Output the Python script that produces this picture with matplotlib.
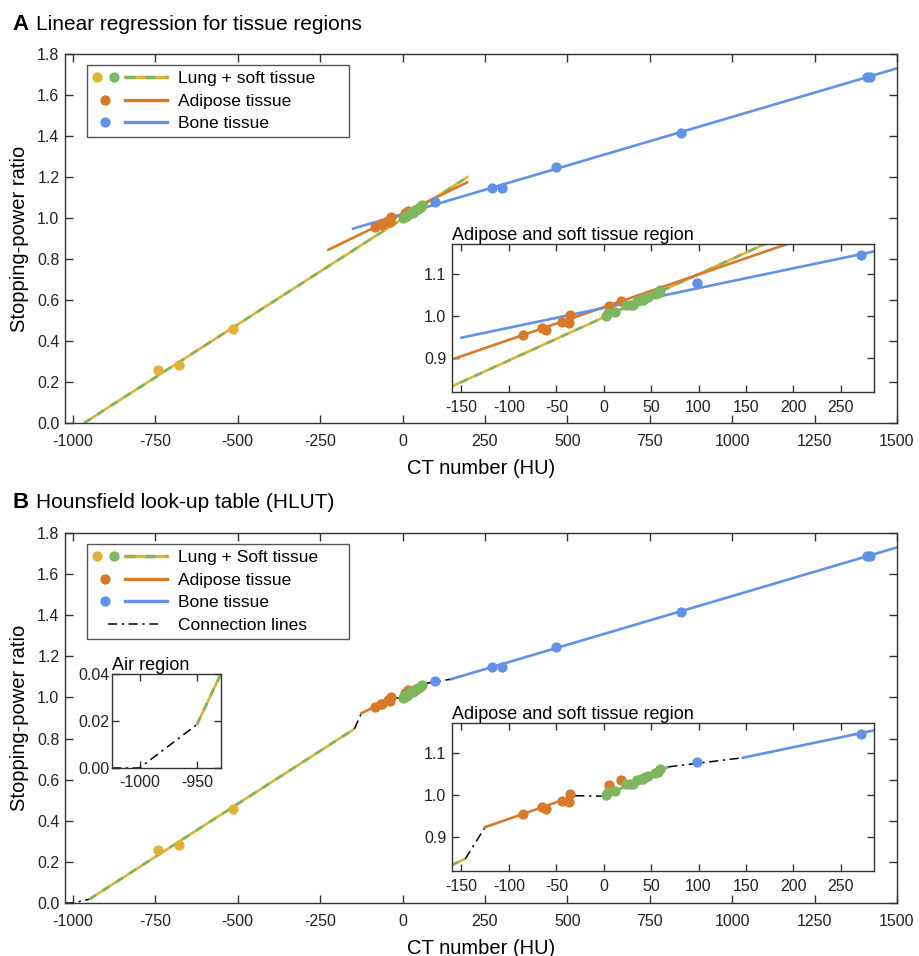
import matplotlib
matplotlib.use("Agg")
import matplotlib.pyplot as plt
from matplotlib.lines import Line2D
from matplotlib.legend_handler import HandlerBase
from matplotlib.ticker import FormatStrFormatter, MultipleLocator

plt.rcParams['font.family'] = ['Liberation Sans', 'DejaVu Sans']
plt.rcParams['axes.unicode_minus'] = False

# Cores
amarelo = '#E2B13A'
verde = '#7DB65E'
laranja = '#D77A2A'
azul = '#6192E6'
cor_eixo = '#333333'

# Pontos medidos (HU, SPR)
lung_hu = [-741, -677, -514]
lung_spr = [0.258, 0.282, 0.457]

soft_hu = [2, 4, 12, 24, 28, 31, 35, 39, 41, 44, 47, 54, 57, 59]
soft_spr = [0.999, 1.006, 1.009, 1.026, 1.027, 1.025, 1.036, 1.037,
            1.039, 1.042, 1.045, 1.052, 1.055, 1.061]

adip_hu = [-85, -65, -61, -44, -37, -36, 6, 18]
adip_spr = [0.954, 0.970, 0.966, 0.986, 0.982, 1.003, 1.024, 1.035]

bone_hu = [98, 271, 303, 467, 846, 1410, 1418]
bone_spr = [1.079, 1.146, 1.147, 1.247, 1.415, 1.690, 1.690]

# Retas de regressao (painel A): extremos
fit_lung_hu = [-966, 200]
fit_lung_spr = [0.0, 1.203]
fit_adip_hu = [-225, 196]
fit_adip_spr = [0.845, 1.174]
fit_bone_hu = [-150, 1500]
fit_bone_spr = [0.948, 1.730]

# HLUT (painel B): segmentos
hlut_ar_hu = [-1024, -1000, -950]
hlut_ar_spr = [0.0, 0.0, 0.0185]
hlut_lung_hu = [-950, -146]
hlut_lung_spr = [0.0185, 0.847]
hlut_con1_hu = [-146, -125]
hlut_con1_spr = [0.847, 0.923]
hlut_adip_hu = [-125, -30]
hlut_adip_spr = [0.923, 0.998]
hlut_con2_hu = [-30, 0]
hlut_con2_spr = [0.998, 0.997]
hlut_soft_hu = [0, 68]
hlut_soft_spr = [0.997, 1.067]
hlut_con3_hu = [68, 147]
hlut_con3_spr = [1.067, 1.089]
hlut_bone_hu = [147, 1500]
hlut_bone_spr = [1.089, 1.730]

W, H = 919, 956
fig = plt.figure(figsize=(W / 100, H / 100), dpi=100)


def pos(l, r, t, b):
    return [l / W, 1 - b / H, (r - l) / W, (b - t) / H]


LW = 1.9
MS = 6.4


def linha_lung(ax, x, y):
    ax.plot(x, y, color=amarelo, lw=LW, solid_capstyle='butt')
    ax.plot(x, y, color=verde, lw=LW, dashes=(3, 3))


def linha_con(ax, x, y):
    ax.plot(x, y, color='k', lw=1.1, dashes=(6, 3, 1.5, 3))


def pontos(ax):
    kw = dict(ls='none', marker='o', ms=MS, zorder=4)
    ax.plot(lung_hu, lung_spr, color=amarelo, **kw)
    ax.plot(adip_hu, adip_spr, color=laranja, **kw)
    ax.plot(soft_hu, soft_spr, color=verde, **kw)
    ax.plot(bone_hu, bone_spr, color=azul, **kw)


def desenha_A(ax):
    linha_lung(ax, fit_lung_hu, fit_lung_spr)
    ax.plot(fit_adip_hu, fit_adip_spr, color=laranja, lw=LW)
    ax.plot(fit_bone_hu, fit_bone_spr, color=azul, lw=LW)
    pontos(ax)


def desenha_B(ax, com_pontos=True):
    linha_con(ax, hlut_ar_hu, hlut_ar_spr)
    linha_lung(ax, hlut_lung_hu, hlut_lung_spr)
    linha_con(ax, hlut_con1_hu, hlut_con1_spr)
    ax.plot(hlut_adip_hu, hlut_adip_spr, color=laranja, lw=LW)
    linha_con(ax, hlut_con2_hu, hlut_con2_spr)
    linha_lung(ax, hlut_soft_hu, hlut_soft_spr)
    linha_con(ax, hlut_con3_hu, hlut_con3_spr)
    ax.plot(hlut_bone_hu, hlut_bone_spr, color=azul, lw=LW)
    if com_pontos:
        pontos(ax)


def estilo(ax, comp=6):
    for s in ax.spines.values():
        s.set_color(cor_eixo)
        s.set_linewidth(1.0)
    ax.tick_params(direction='in', top=True, right=True, length=comp,
                   width=1.0, color=cor_eixo, labelcolor='#222222',
                   labelsize=11.5, pad=4)


def principal(ax):
    ax.set_xlim(-1024, 1500)
    ax.set_ylim(0, 1.8)
    ax.xaxis.set_major_locator(MultipleLocator(250))
    ax.yaxis.set_major_locator(MultipleLocator(0.2))
    ax.yaxis.set_major_formatter(FormatStrFormatter('%.1f'))
    estilo(ax)
    ax.tick_params(axis='x', pad=8)
    ax.set_xlabel('CT number (HU)', fontsize=14.5, labelpad=7)
    ax.set_ylabel('Stopping-power ratio', fontsize=14.5, labelpad=6)


def inset_tecido(ax):
    ax.set_xlim(-160, 285)
    ax.set_ylim(0.818, 1.172)
    ax.set_xticks([-150, -100, -50, 0, 50, 100, 150, 200, 250])
    ax.set_yticks([0.9, 1.0, 1.1])
    ax.yaxis.set_major_formatter(FormatStrFormatter('%.1f'))
    estilo(ax, 5)
    ax.tick_params(axis='x', pad=6)
    ax.set_title('Adipose and soft tissue region', loc='left', fontsize=13, pad=3)


class HandlerPontosLinha(HandlerBase):
    def __init__(self, pts, linhas):
        super().__init__()
        self.pts = pts
        self.linhas = linhas

    def create_artists(self, legend, orig_handle, xdescent, ydescent,
                       width, height, fontsize, trans):
        y = height / 2 - ydescent
        arts = []
        for f0, f1, kw in self.linhas:
            arts.append(Line2D([f0 * width - xdescent, f1 * width - xdescent],
                               [y, y], transform=trans, **kw))
        for f, c in self.pts:
            arts.append(Line2D([f * width - xdescent], [y], ls='none',
                               marker='o', ms=MS, color=c, transform=trans))
        return arts


def legenda(ax, conexao=False):
    hs = [Line2D([], []), Line2D([], []), Line2D([], [])]
    labs = ['Lung + soft tissue', 'Adipose tissue', 'Bone tissue']
    hm = {
        hs[0]: HandlerPontosLinha([(0.06, amarelo), (0.29, verde)],
                                  [(0.43, 1.0, dict(color=amarelo, lw=2.4)),
                                   (0.43, 1.0, dict(color=verde, lw=2.4, dashes=(3, 3)))]),
        hs[1]: HandlerPontosLinha([(0.17, laranja)],
                                  [(0.43, 1.0, dict(color=laranja, lw=2.4))]),
        hs[2]: HandlerPontosLinha([(0.17, azul)],
                                  [(0.43, 1.0, dict(color=azul, lw=2.4))]),
    }
    if conexao:
        labs[0] = 'Lung + Soft tissue'
        h4 = Line2D([], [])
        hs.append(h4)
        labs.append('Connection lines')
        hm[h4] = HandlerPontosLinha([], [(0.2, 0.88, dict(color='k', lw=1.1,
                                                            dashes=(6, 3, 1.5, 3)))])
    topo = 0.970
    leg = ax.legend(hs, labs, handler_map=hm, loc='upper left',
                    bbox_to_anchor=(0.026, topo - 0.1, 0.315, 0.1), mode='expand',
                    borderaxespad=0, fontsize=12.5, handlelength=4.3,
                    handletextpad=0.6, labelspacing=0.42, borderpad=0.35,
                    fancybox=False, edgecolor='#555555', framealpha=1)
    leg.get_frame().set_linewidth(1.0)
    return leg


# =========================
# PAINEL A
# =========================
axA = fig.add_axes(pos(65, 897, 54, 423))
desenha_A(axA)
principal(axA)
legenda(axA)

insA = fig.add_axes(pos(452, 874, 244, 392))
desenha_A(insA)
inset_tecido(insA)

# =========================
# PAINEL B
# =========================
axB = fig.add_axes(pos(65, 897, 533, 903))
desenha_B(axB)
principal(axB)
legenda(axB, conexao=True)

insB = fig.add_axes(pos(452, 874, 723, 871))
desenha_B(insB)
inset_tecido(insB)

insAr = fig.add_axes(pos(112, 221, 674, 768))
desenha_B(insAr, com_pontos=False)
insAr.set_xlim(-1024, -929)
insAr.set_ylim(0, 0.04)
insAr.set_xticks([-1000, -950])
insAr.set_yticks([0.0, 0.02, 0.04])
insAr.yaxis.set_major_formatter(FormatStrFormatter('%.2f'))
estilo(insAr, 5)
insAr.tick_params(pad=2)
insAr.tick_params(axis='x', pad=5)
insAr.set_title('Air region', loc='left', fontsize=13, pad=3)

# Titulos dos paineis
fig.text(12 / W, 1 - 30 / H, 'A', fontsize=16, fontweight='bold', va='baseline')
fig.text(36 / W, 1 - 30 / H, 'Linear regression for tissue regions', fontsize=15,
         va='baseline')
fig.text(12 / W, 1 - 508 / H, 'B', fontsize=16, fontweight='bold', va='baseline')
fig.text(36 / W, 1 - 508 / H, 'Hounsfield look-up table (HLUT)', fontsize=15,
         va='baseline')

fig.savefig('out.png', dpi=100)
plt.close(fig)
